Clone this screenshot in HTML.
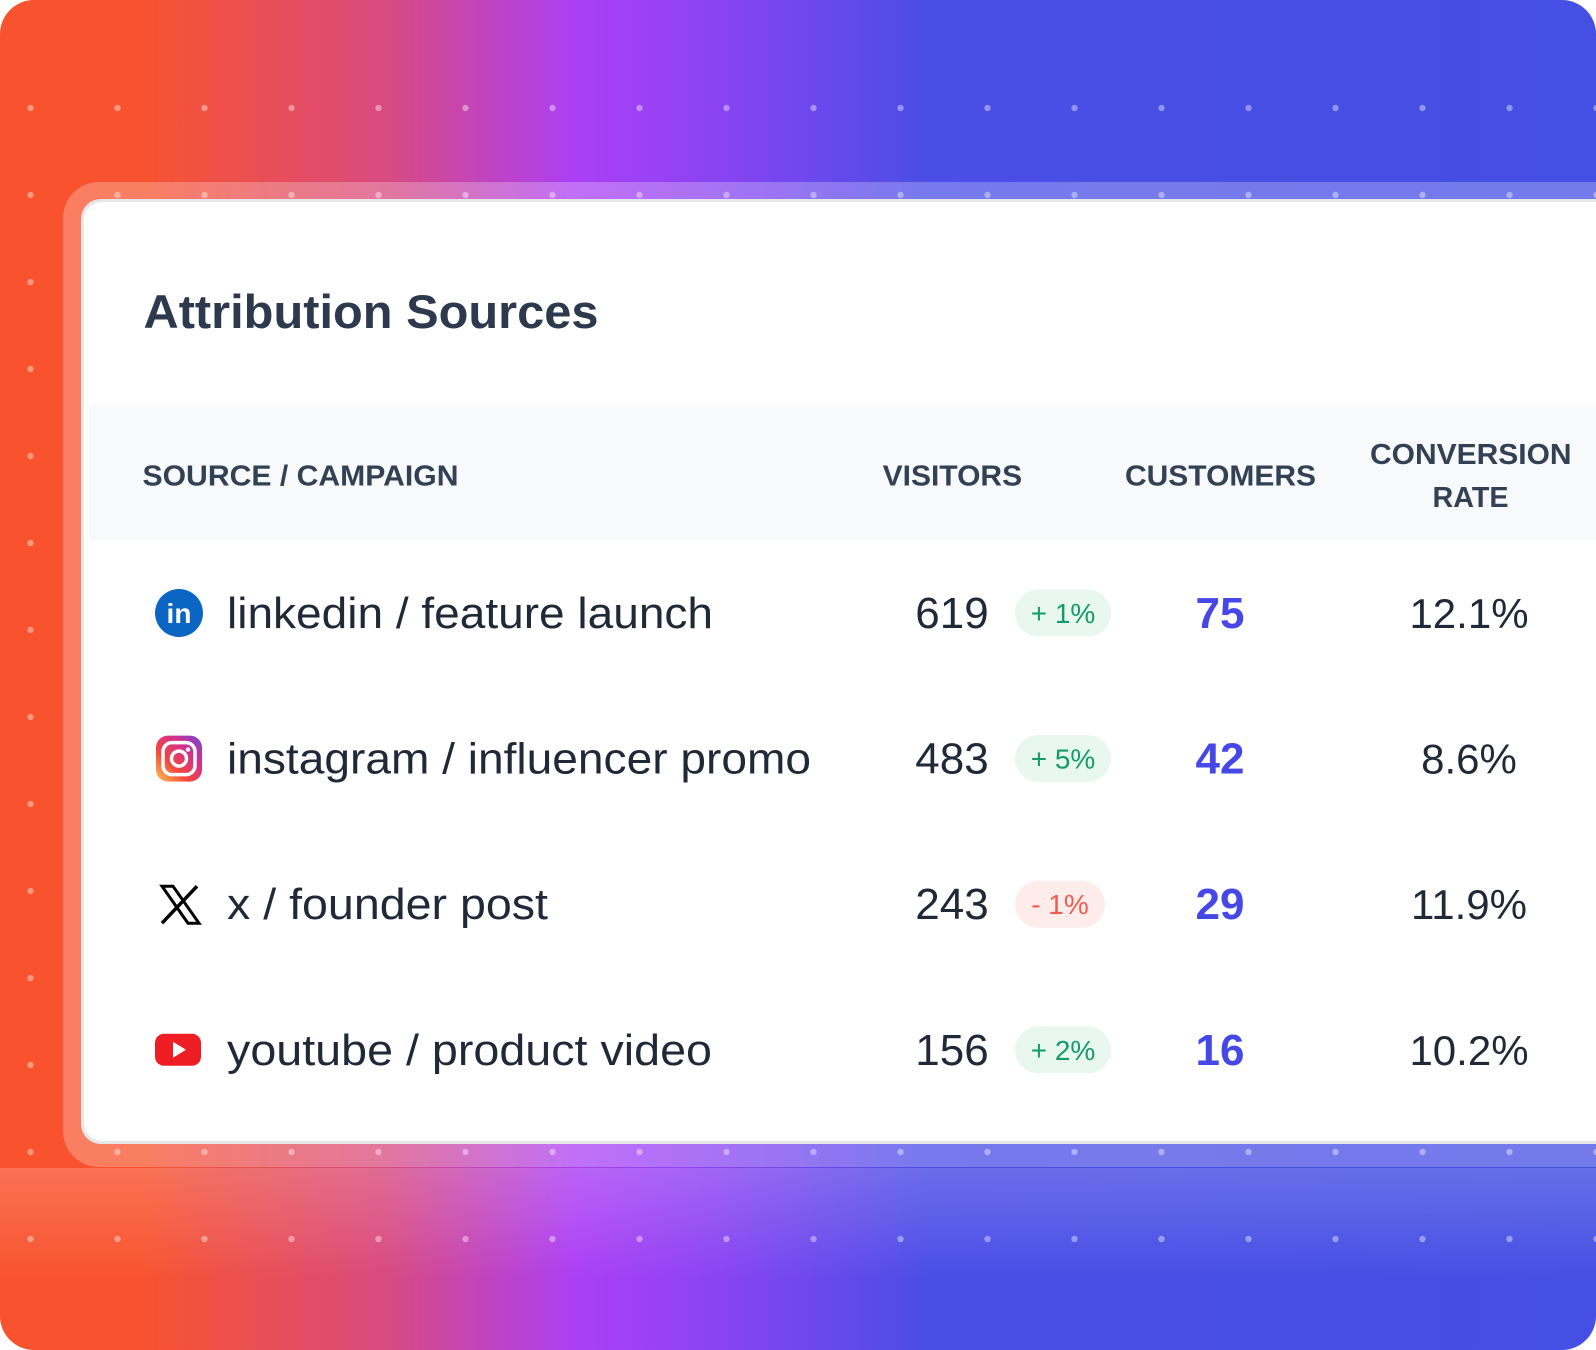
<!DOCTYPE html>
<html><head><meta charset="utf-8"><style>
html,body{margin:0;padding:0;width:1596px;height:1350px;overflow:hidden;background:#fff}
svg{display:block}
text{font-family:"Liberation Sans",sans-serif}
</style></head><body>
<svg id="s" width="1596" height="1350" viewBox="0 0 1596 1350">
<defs>
<linearGradient id="bg" x1="0" y1="0" x2="1596" y2="0" gradientUnits="userSpaceOnUse">
<stop offset="0" stop-color="#f8532e"/>
<stop offset="0.09" stop-color="#f8532e"/>
<stop offset="0.24" stop-color="#d94a7e"/>
<stop offset="0.36" stop-color="#ac3ff5"/>
<stop offset="0.44" stop-color="#8e43f3"/>
<stop offset="0.58" stop-color="#4a4de6"/>
<stop offset="1" stop-color="#444fe3"/>
</linearGradient>
<linearGradient id="ig" x1="0" y1="1" x2="1" y2="0">
<stop offset="0" stop-color="#fdc94f"/><stop offset="0.35" stop-color="#f3473d"/><stop offset="0.7" stop-color="#d02f93"/><stop offset="1" stop-color="#6a4bd8"/>
</linearGradient>
<linearGradient id="fade" x1="0" y1="0" x2="0" y2="1">
<stop offset="0" stop-color="#fff" stop-opacity="0.18"/><stop offset="1" stop-color="#fff" stop-opacity="0"/>
</linearGradient>
</defs>
<rect x="0" y="0" width="1596" height="1350" rx="34" fill="url(#bg)"/>
<rect x="0" y="1168" width="1596" height="110" fill="url(#fade)"/>
<g id="dots"></g>
<rect x="63" y="182" width="1600" height="985" rx="36" fill="#fff" fill-opacity="0.25"/>
<rect x="81" y="199" width="1600" height="945" rx="20" fill="#e5e7eb"/>
<rect x="84" y="202" width="1600" height="939" rx="18" fill="#ffffff"/>
<text x="143.5" y="328" font-size="47" font-weight="700" fill="#2d3a4d" textLength="455" lengthAdjust="spacingAndGlyphs">Attribution Sources</text>
<rect x="89" y="405" width="1600" height="135" fill="#f8f9fb"/>
<g fill="#334155" font-size="29" font-weight="700">
<text x="142.5" y="485.6" textLength="316" lengthAdjust="spacingAndGlyphs">SOURCE / CAMPAIGN</text>
<text x="882.6" y="485.6" textLength="139.5" lengthAdjust="spacingAndGlyphs">VISITORS</text>
<text x="1125" y="485.6" textLength="191" lengthAdjust="spacingAndGlyphs">CUSTOMERS</text>
<text x="1370" y="464" textLength="201.6" lengthAdjust="spacingAndGlyphs">CONVERSION</text>
<text x="1432.5" y="507" textLength="76" lengthAdjust="spacingAndGlyphs">RATE</text>
</g>
<g id="rows"></g>
</svg>
<script>
const sources=["linkedin / feature launch","instagram / influencer promo","x / founder post","youtube / product video"];
const visitors=[619,483,243,156];
const changes=[1,5,-1,2];
const customers=[75,42,29,16];
const conversion=["12.1%","8.6%","11.9%","10.2%"];
const srcWidths=[486,584,321,485];
const NS="http://www.w3.org/2000/svg";
function mk(tag,attrs,parent,txt){const e=document.createElementNS(NS,tag);for(const k in attrs)e.setAttribute(k,attrs[k]);if(txt!==undefined)e.textContent=txt;parent.appendChild(e);return e;}
const dg=document.getElementById('dots');
for(let r=0;r<14;r++)for(let c=0;c<19;c++){
 const d=mk('circle',{cx:30.5+c*87,cy:108+r*87,r:3.2,fill:'#fff','fill-opacity':0.4},dg);
 
 
}
const rg=document.getElementById('rows');
const rowY=i=>613+i*145.6;
sources.forEach((s,i)=>{
 const cy=rowY(i), base=cy+15;
 const g=mk('g',{},rg);
 
 
 const ic=mk('g',{},g);
 
 
 if(i===0){mk('circle',{cx:179,cy:cy,r:24,fill:'#0a66c2'},ic);
  mk('text',{x:179,y:cy+10,'text-anchor':'middle','font-size':28,'font-weight':700,fill:'#fff'},ic,'in');}
 else if(i===1){mk('rect',{x:156,y:cy-23,width:46,height:46,rx:12,fill:'url(#ig)'},ic);
  mk('rect',{x:163,y:cy-16,width:32,height:32,rx:9,fill:'none',stroke:'#fff','stroke-width':3.5},ic);
  mk('circle',{cx:179,cy:cy,r:7.5,fill:'none',stroke:'#fff','stroke-width':3.5},ic);
  mk('circle',{cx:188,cy:cy-9,r:2.2,fill:'#fff'},ic);}
 else if(i===2){mk('path',{d:`M162 ${cy-18} L173 ${cy-18} L199 ${cy+19} L188 ${cy+19} Z`,fill:'none',stroke:'#000','stroke-width':3},ic);
  mk('path',{d:`M197 ${cy-18} L162 ${cy+19}`,stroke:'#000','stroke-width':3.5},ic);}
 else {mk('rect',{x:155,y:cy-16,width:46,height:32,rx:9,fill:'#ee1d23'},ic);
  mk('path',{d:`M173 ${cy-8} L186 ${cy} L173 ${cy+8} Z`,fill:'#fff'},ic);}
 const t=mk('text',{x:227,y:base,'font-size':44,fill:'#1f2937',textLength:srcWidths[i],lengthAdjust:'spacingAndGlyphs'},g,s);
 
 
 const v=mk('text',{x:952,y:base,'text-anchor':'middle','font-size':44,fill:'#1f2937'},g,String(visitors[i]));
 
 
 const pos=changes[i]>=0;
 const b=mk('rect',{x:1015,y:cy-23.5,width:pos?96:90,height:47,rx:23.5,fill:pos?'#e8f7f0':'#fdecea'},g);
 
 
 const bt=mk('text',{x:1015+(pos?48:45),y:cy+10,'text-anchor':'middle','font-size':28,'font-weight':400,fill:pos?'#159a6b':'#ef5b50'},g,(pos?'+ ':'- ')+Math.abs(changes[i])+'%');
 
 
 const c=mk('text',{x:1220,y:base,'text-anchor':'middle','font-size':44,'font-weight':600,fill:'#4548e6'},g,String(customers[i]));
 
 
 const cr=mk('text',{x:1469,y:base,'text-anchor':'middle','font-size':42,fill:'#1f2937'},g,conversion[i]);
 
 
});
</script>
</body></html>
